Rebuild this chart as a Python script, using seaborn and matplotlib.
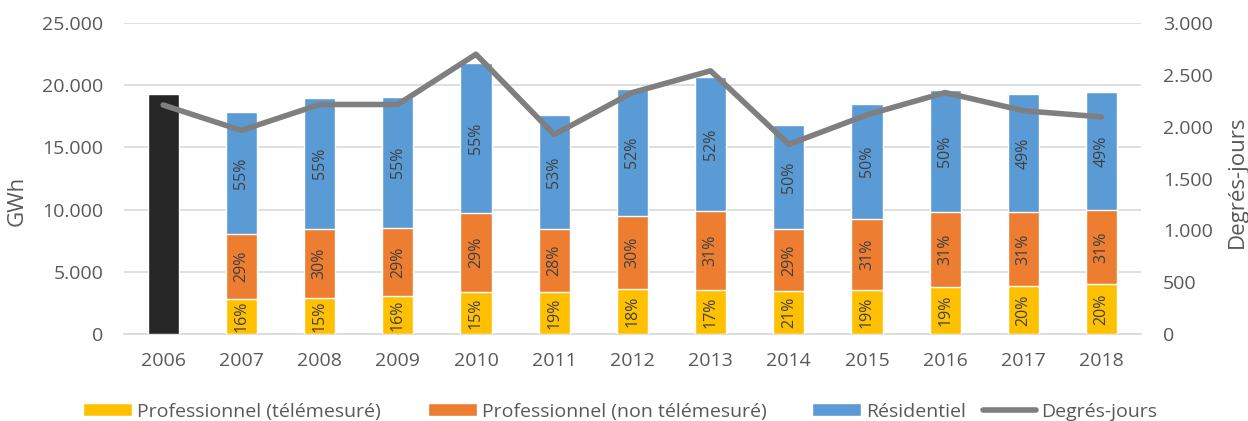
import numpy as np
import pandas as pd
import matplotlib
matplotlib.use("Agg")
import matplotlib.pyplot as plt
from matplotlib.patches import Patch
from matplotlib.lines import Line2D
from matplotlib.ticker import FuncFormatter
import seaborn as sns

years = ["2006", "2007", "2008", "2009", "2010", "2011", "2012", "2013",
         "2014", "2015", "2016", "2017", "2018"]
total_2006 = [19300] + [np.nan] * 12
pro_tele = [np.nan, 2810, 2890, 3050, 3400, 3380, 3620, 3540, 3480, 3540, 3780, 3860, 3990]
pro_non_tele = [np.nan, 5200, 5570, 5500, 6330, 5040, 5890, 6320, 4940, 5680, 6000, 5920, 5950]
residentiel = [np.nan, 9840, 10490, 10530, 12050, 9210, 10210, 10820, 8380, 9270, 9830, 9510, 9510]
degres_jours = [2210, 1965, 2215, 2215, 2700, 1925, 2330, 2540, 1830, 2115, 2330, 2155, 2095]

lbl_tele = ["", "16%", "15%", "16%", "15%", "19%", "18%", "17%", "21%", "19%", "19%", "20%", "20%"]
lbl_non = ["", "29%", "30%", "29%", "29%", "28%", "30%", "31%", "29%", "31%", "31%", "31%", "31%"]
lbl_res = ["", "55%", "55%", "55%", "55%", "53%", "52%", "52%", "50%", "50%", "50%", "49%", "49%"]

names = ["Professionnel (télémesuré)", "Professionnel (non télémesuré)", "Résidentiel", "Degrés-jours"]
c_yel, c_ora, c_blu, c_blk, c_line = "#FFC000", "#ED7D31", "#5B9BD5", "#262626", "#7F7F7F"
txt = "#595959"

sns.set_theme(style="white")
plt.rcParams["font.family"] = ["Open Sans", "DejaVu Sans"]

df = pd.DataFrame({"year": years, "total06": total_2006, "tele": pro_tele,
                   "non": pro_non_tele, "res": residentiel, "dj": degres_jours})
df["cum_non"] = df["tele"] + df["non"]
df["cum_res"] = df["cum_non"] + df["res"]

fig = plt.figure(figsize=(12.48, 4.21), dpi=100)
ax = fig.add_axes([0.0994, 0.2067, 0.8146, 0.7383])

w = 0.4
sns.barplot(data=df, x="year", y="cum_res", order=years, color=c_blu, width=w,
            saturation=1, ax=ax, zorder=2)
sns.barplot(data=df, x="year", y="cum_non", order=years, color=c_ora, width=w,
            saturation=1, ax=ax, zorder=3)
sns.barplot(data=df, x="year", y="tele", order=years, color=c_yel, width=w,
            saturation=1, ax=ax, zorder=4)
sns.barplot(data=df, x="year", y="total06", order=years, color=c_blk, width=w,
            saturation=1, ax=ax, zorder=5)

# percentage labels at the centre of each segment
conts = ax.containers
zeros = pd.Series([0.0] * len(years))
for cont, labs, lower in [(conts[0], lbl_res, df["cum_non"]),
                          (conts[1], lbl_non, df["tele"]),
                          (conts[2], lbl_tele, zeros)]:
    for bar in cont:
        xc = bar.get_x() + bar.get_width() / 2
        i = int(round(xc))
        lab = labs[i]
        if lab:
            h = bar.get_height()
            ax.text(xc, (h + lower.iloc[i]) / 2, lab, rotation=90,
                    ha="center", va="center", zorder=10,
                    fontsize=11.5, color="#404040")

ax.set_ylim(0, 25000)
ax.set_yticks(np.arange(0, 25001, 5000))
fmt = FuncFormatter(lambda v, p: f"{int(v):,}".replace(",", "."))
ax.yaxis.set_major_formatter(fmt)
ax.set_xlim(-0.5, len(years) - 0.5)
ax.yaxis.grid(True, color="#D9D9D9", linewidth=1.2, zorder=0)
ax.set_axisbelow(True)
for s in ["top", "right", "left"]:
    ax.spines[s].set_visible(False)
ax.spines["bottom"].set_color("#D9D9D9")
ax.spines["bottom"].set_linewidth(1.2)
ax.tick_params(axis="y", length=0, labelsize=14, colors=txt, pad=15)
ax.tick_params(axis="x", length=0, labelsize=14, colors=txt, pad=13)
ax.set_xlabel("")
ax.set_ylabel("")
fig.text(0.0136, 0.5217, "GWh", rotation=90, ha="center", va="center",
         fontsize=16, color=txt)

ax2 = ax.twinx()
sns.lineplot(x=np.arange(len(years)), y=df["dj"], color=c_line, linewidth=4,
             ax=ax2, zorder=20)
ax2.set_ylim(0, 3000)
ax2.set_yticks(np.arange(0, 3001, 500))
ax2.yaxis.set_major_formatter(fmt)
ax2.set_xlim(-0.5, len(years) - 0.5)
for s in ["top", "right", "left", "bottom"]:
    ax2.spines[s].set_visible(False)
ax2.tick_params(axis="y", length=0, labelsize=14, colors=txt, pad=16)
ax2.set_ylabel("")
ax2.grid(False)
fig.text(0.9915, 0.5677, "Degrés-jours", rotation=90, ha="center", va="center",
         fontsize=16, color=txt)

handles = [Patch(facecolor=c_yel), Patch(facecolor=c_ora), Patch(facecolor=c_blu),
           Line2D([0], [0], color=c_line, linewidth=4)]
starts = [83, 428, 812, 983]
for h, name, x0 in zip(handles, names, starts):
    hl = 2.7 if isinstance(h, Line2D) else 2.5
    fig.legend([h], [name], loc="center left", bbox_to_anchor=(x0 / 1248, 0.022),
               frameon=False, fontsize=14, handlelength=hl, handleheight=0.65,
               handletextpad=0.3, borderpad=0, borderaxespad=0, labelcolor=txt)

fig.savefig("out.png", dpi=100)
